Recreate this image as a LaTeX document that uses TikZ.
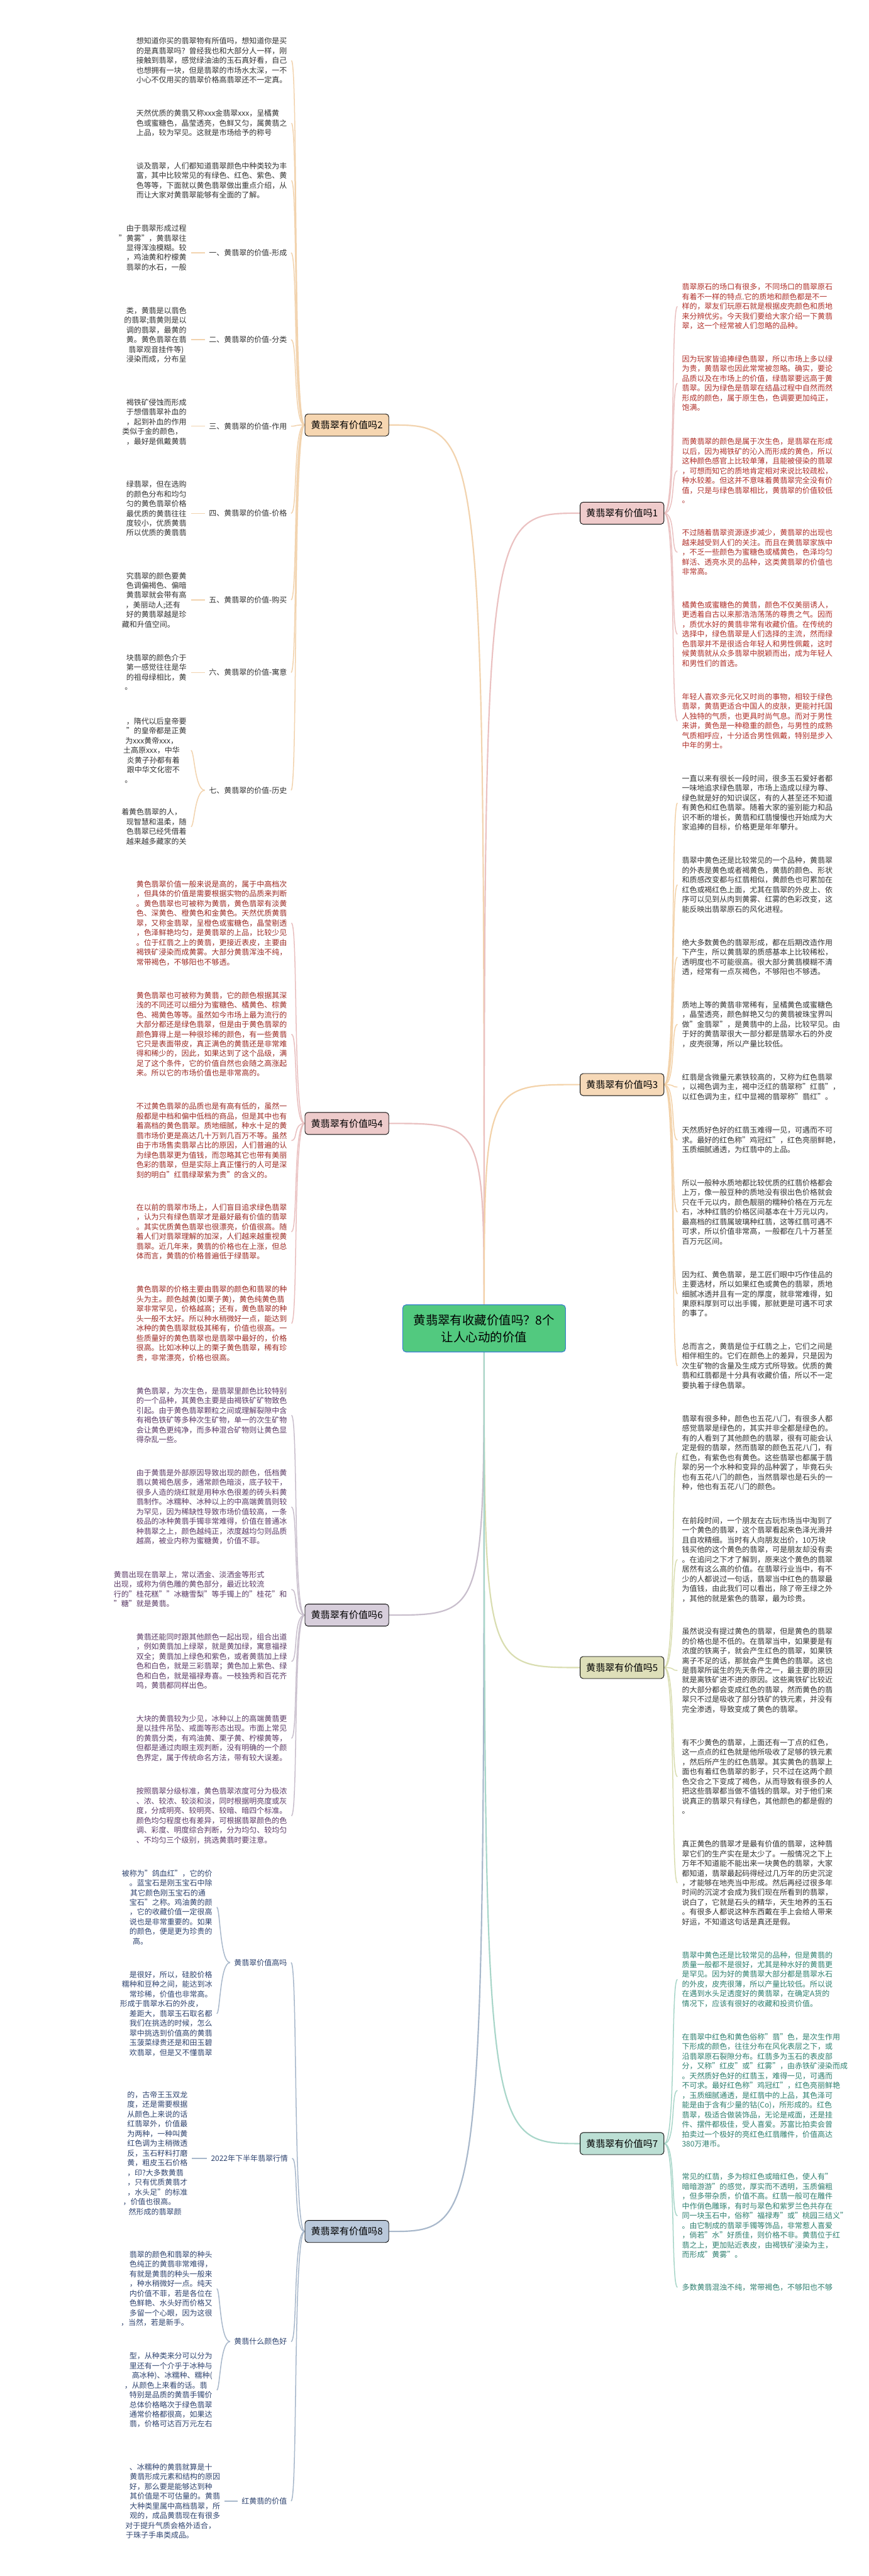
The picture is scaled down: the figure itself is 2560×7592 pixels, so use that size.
\documentclass[tikz,border=0pt]{standalone}
\usepackage{fontspec}
\setmainfont{Noto Sans CJK SC}
\usetikzlibrary{backgrounds}
\definecolor{ctrfill}{HTML}{52C97F}
\definecolor{ctrline}{HTML}{3A80D0}
\definecolor{f1}{HTML}{EFCBCB}\definecolor{c1}{HTML}{EBC1C1}\definecolor{t1}{HTML}{B0302A}
\definecolor{f2}{HTML}{F6D6B1}\definecolor{c2}{HTML}{F2D3AE}\definecolor{t2}{HTML}{333333}
\definecolor{f3}{HTML}{F6D9B8}\definecolor{c3}{HTML}{F3D2A9}\definecolor{t3}{HTML}{333333}
\definecolor{f4}{HTML}{EDCACA}\definecolor{c4}{HTML}{E9BFBF}\definecolor{t4}{HTML}{9E2B25}
\definecolor{f5}{HTML}{DEDFB9}\definecolor{c5}{HTML}{D9DDB0}\definecolor{t5}{HTML}{333333}
\definecolor{f6}{HTML}{D7CEDB}\definecolor{c6}{HTML}{C8BECC}\definecolor{t6}{HTML}{5B3A66}
\definecolor{f7}{HTML}{BCDFD4}\definecolor{c7}{HTML}{A8D6C9}\definecolor{t7}{HTML}{2E8070}
\definecolor{f8}{HTML}{B9C8DA}\definecolor{c8}{HTML}{A8B8CB}\definecolor{t8}{HTML}{2F4470}
\begin{document}
\begin{tikzpicture}[x=1pt,y=-1pt]
        % Define styles
        \tikzset{
            hub/.style={draw=ctrline, fill=ctrfill, line width=2pt, rounded corners=10pt, minimum width=480pt, minimum height=139pt, align=center, font=\fontsize{36}{50}\selectfont},
            branchbox/.style={draw=black, line width=1.6pt, rounded corners=9pt, minimum width=247pt, minimum height=65pt, inner sep=0pt, font=\fontsize{28}{34}\selectfont},
            leaftext/.style={align=left, inner xsep=13pt, inner ysep=2pt, font=\fontsize{22.2}{28.7}\selectfont},
            leafpart/.style={leaftext, align=right},
            subtag/.style={inner xsep=12pt, inner ysep=2pt, font=\fontsize{22.2}{28.7}\selectfont},
            trunk/.style={line width=4pt},
            twig/.style={line width=2.8pt}
        }
        \useasboundingbox (0,0) rectangle (2560,7592);
        % Central topic
        \node[hub] (ctr) at (1427,3915) {黄翡翠有收藏价值吗？8个\\让人心动的价值};
        % Branch 2 (left, top)
        \node[branchbox, fill=f2] (b2) at (1022.5,1252.5) {黄翡翠有价值吗2};
        \node[leaftext, text=t2, anchor=east] (n2a) at (859,178.5) {想知道你买的翡翠物有所值吗，想知道你是买\\的是真翡翠吗？曾经我也和大部分人一样，刚\\接触到翡翠，感觉绿油油的玉石真好看，自己\\也想拥有一块，但是翡翠的市场水太深，一不\\小心不仅用买的翡翠价格高翡翠还不一定真。};
        \node[leaftext, text=t2, anchor=east] (n2b) at (859,363) {天然优质的黄翡又称xxx金翡翠xxx，呈橘黄\\色或蜜糖色，晶莹透亮，色鲜又匀，属黄翡之\\上品，较为罕见。这就是市场给予的称号};
        \node[leaftext, text=t2, anchor=east] (n2c) at (859,532) {谈及翡翠，人们都知道翡翠颜色中种类较为丰\\富，其中比较常见的有绿色、红色、紫色、黄\\色等等，下面就以黄色翡翠做出重点介绍，从\\而让大家对黄翡翠能够有全面的了解。};
        \node[subtag, text=t2, anchor=east] (s21) at (858,745) {一、黄翡翠的价值-形成};
        \node[subtag, text=t2, anchor=east] (s22) at (858,1001) {二、黄翡翠的价值-分类};
        \node[subtag, text=t2, anchor=east] (s23) at (858,1256) {三、黄翡翠的价值-作用};
        \node[subtag, text=t2, anchor=east] (s24) at (858,1513) {四、黄翡翠的价值-价格};
        \node[subtag, text=t2, anchor=east] (s25) at (858,1768) {五、黄翡翠的价值-购买};
        \node[subtag, text=t2, anchor=east] (s26) at (858,1982) {六、黄翡翠的价值-寓意};
        \node[subtag, text=t2, anchor=east] (s27) at (858,2329) {七、黄翡翠的价值-历史};
        \node[leafpart, text=t2, anchor=east] (n21) at (563,730.5) {由于翡翠形成过程\\"黄雾"，黄翡翠往\\显得浑浊模糊。较\\，鸡油黄和柠檬黄\\翡翠的水石，一般};
        \node[leafpart, text=t2, anchor=east] (n22) at (563,987) {类，黄翡是以翡色\\的翡翠;翡黄则是以\\调的翡翠，最黄的\\黄。黄色翡翠在翡\\翡翠观音挂件等)\rule{8pt}{0pt}\\浸染而成，分布呈};
        \node[leafpart, text=t2, anchor=east] (n23) at (563,1243) {褐铁矿侵蚀而形成\\于想借翡翠补血的\\，起到补血的作用\\类似于金的颜色，\rule{12pt}{0pt}\\，最好是佩戴黄翡};
        \node[leafpart, text=t2, anchor=east] (n24) at (563,1499) {绿翡翠，但在选购\\的颜色分布和均匀\\匀的黄色翡翠价格\\最优质的黄翡往往\\度较小，优质黄翡\\所以优质的黄翡翡};
        \node[leafpart, text=t2, anchor=east] (n25) at (563,1768.5) {究翡翠的颜色要黄\\色调偏褐色、偏暗\\黄翡翠就会带有高\\，美丽动人;还有\rule{18pt}{0pt}\\好的黄翡翠越是珍\\藏和升值空间。\rule{35pt}{0pt}};
        \node[leafpart, text=t2, anchor=east] (n26) at (563,1981) {块翡翠的颜色介于\\第一感觉往往是华\\的祖母绿相比，黄\\。\rule{160pt}{0pt}};
        \node[leafpart, text=t2, anchor=east] (n27a) at (563,2211.5) {，隋代以后皇帝要\\"的皇帝都是正黄\\为xxx黄帝xxx，\rule{25pt}{0pt}\\土高原xxx，中华\rule{20pt}{0pt}\\炎黄子孙都有着\rule{20pt}{0pt}\\跟中华文化密不\rule{20pt}{0pt}\\。\rule{160pt}{0pt}};
        \node[leafpart, text=t2, anchor=east] (n27b) at (563,2436.5) {着黄色翡翠的人，\rule{14pt}{0pt}\\现智慧和温柔，随\\色翡翠已经凭借着\\越来越多藏家的关};
        % Branch 4
        \node[branchbox, fill=f4] (b4) at (1022.5,3311) {黄翡翠有价值吗4};
        \node[leaftext, text=t4, anchor=east] (n4a) at (859,2720.5) {黄色翡翠价值一般来说是高的，属于中高档次\\，但具体的价值是需要根据实物的品质来判断\\。黄色翡翠也可被称为黄翡，黄色翡翠有淡黄\\色、深黄色、橙黄色和金黄色。天然优质黄翡\\翠，又称金翡翠，呈橙色或蜜糖色，晶莹剔透\\，色泽鲜艳均匀，是黄翡翠的上品，比较少见\\。位于红翡之上的黄翡，更接近表皮，主要由\\褐铁矿浸染而成黄雾。大部分黄翡浑浊不纯，\\常带褐色，不够阳也不够透。};
        \node[leaftext, text=t4, anchor=east] (n4b) at (859,3048) {黄色翡翠也可被称为黄翡，它的颜色根据其深\\浅的不同还可以细分为蜜糖色、橘黄色、棕黄\\色、褐黄色等等。虽然如今市场上最为流行的\\大部分都还是绿色翡翠，但是由于黄色翡翠的\\颜色算得上是一种很珍稀的颜色，有一些黄翡\\它只是表面带皮，真正满色的黄翡还是非常难\\得和稀少的，因此，如果达到了这个品级，满\\足了这个条件，它的价值自然也会随之高涨起\\来。所以它的市场价值也是非常高的。};
        \node[leaftext, text=t4, anchor=east] (n4c) at (859,3361.5) {不过黄色翡翠的品质也是有高有低的，虽然一\\般都是中档和偏中低档的商品，但是其中也有\\着高档的黄色翡翠。质地细腻，种水十足的黄\\翡市场价更是高达几十万到几百万不等。虽然\\由于市场售卖翡翠占比的原因，人们普遍的认\\为绿色翡翠更为值钱，而忽略其它也带有美丽\\色彩的翡翠，但是实际上真正懂行的人可是深\\刻的明白"红翡绿翠紫为贵"的含义的。};
        \node[leaftext, text=t4, anchor=east] (n4d) at (859,3630.5) {在以前的翡翠市场上，人们盲目追求绿色翡翠\\，认为只有绿色翡翠才是最好最有价值的翡翠\\。其实优质黄色翡翠也很漂亮，价值很高。随\\着人们对翡翠理解的加深，人们越来越重视黄\\翡翠。近几年来，黄翡的价格也在上涨，但总\\体而言，黄翡的价格普遍低于绿翡翠。};
        \node[leaftext, text=t4, anchor=east] (n4e) at (859,3900.5) {黄色翡翠的价格主要由翡翠的颜色和翡翠的种\\头为主。颜色越黄(如栗子黄)，黄色纯黄色翡\\翠非常罕见，价格越高；还有，黄色翡翠的种\\头一般不太好。所以种水稍微好一点，能达到\\冰种的黄色翡翠就极其稀有，价值也很高。一\\些质量好的黄色翡翠也是翡翠中最好的，价格\\很高。比如冰种以上的栗子黄色翡翠，稀有珍\\贵，非常漂亮，价格也很高。};
        % Branch 6
        \node[branchbox, fill=f6] (b6) at (1022.5,4760) {黄翡翠有价值吗6};
        \node[leaftext, text=t6, anchor=east] (n6a) at (859,4171) {黄色翡翠，为次生色，是翡翠里颜色比较特别\\的一个品种，其黄色主要是由褐铁矿矿物致色\\引起。由于黄色翡翠颗粒之间或理解裂隙中含\\有褐色铁矿等多种次生矿物，单一的次生矿物\\会让黄色更纯净，而多种混合矿物则让黄色显\\得杂乱一些。};
        \node[leaftext, text=t6, anchor=east] (n6b) at (859,4441) {由于黄翡是外部原因导致出现的颜色，低档黄\\翡以黄褐色居多，通常颜色暗淡，底子较干，\\很多人造的烧红就是用种水色很差的砖头料黄\\翡制作。冰糯种、冰种以上的中高端黄翡则较\\为罕见，因为稀缺性导致市场价值较高，一条\\极品的冰种黄翡手镯非常难得，价值在普通冰\\种翡翠之上，颜色越纯正，浓度越均匀则品质\\越高，被业内称为蜜糖黄，价值不菲。};
        \node[leaftext, text=t6, anchor=east] (n6c) at (859,4684) {黄翡出现在翡翠上，常以洒金、淡洒金等形式\\出现，或称为俏色雕的黄色部分，最近比较流\\行的"桂花糕""冰糖雪梨"等手镯上的"桂花"和\\"糖"就是黄翡。};
        \node[leaftext, text=t6, anchor=east] (n6d) at (859,4896.5) {黄翡还能同时跟其他颜色一起出现，组合出道\\，例如黄翡加上绿翠，就是黄加绿，寓意福禄\\双全；黄翡加上绿色和紫色，或者黄翡加上绿\\色和白色，就是三彩翡翠；黄色加上紫色、绿\\色和白色，就是福禄寿喜。一枝独秀和百花齐\\鸣，黄翡都同样出色。};
        \node[leaftext, text=t6, anchor=east] (n6e) at (859,5123) {大块的黄翡较为少见，冰种以上的高端黄翡更\\是以挂件吊坠、戒面等形态出现。市面上常见\\的黄翡分类，有鸡油黄、栗子黄、柠檬黄等，\\但都是通过肉眼主观判断，没有明确的一个颜\\色界定，属于传统命名方法，带有较大误差。};
        \node[leaftext, text=t6, anchor=east] (n6f) at (859,5351.5) {按照翡翠分级标准，黄色翡翠浓度可分为极浓\\、浓、较浓、较淡和淡，同时根据明亮度或灰\\度，分成明亮、较明亮、较暗、暗四个标准。\\颜色均匀程度也有差异，可根据翡翠颜色的色\\调、彩度、明度综合判断，分为均匀、较均匀\\、不均匀三个级别，挑选黄翡时要注意。};
        % Branch 8
        \node[branchbox, fill=f8] (b8) at (1022.5,6576.5) {黄翡翠有价值吗8};
        \node[subtag, text=t8, anchor=east] (s8a) at (858,5784) {黄翡翠价值高吗};
        \node[subtag, text=t8, anchor=east] (s8b) at (861,6361) {2022年下半年翡翠行情};
        \node[subtag, text=t8, anchor=east] (s8c) at (858,6901) {黄翡什么颜色好};
        \node[subtag, text=t8, anchor=east] (s8d) at (858,7371) {红黄翡的价值};
        \node[leafpart, text=t8, anchor=east] (n8a1) at (639,5621) {被称为"鸽血红"，它的价\\。蓝宝石是刚玉宝石中除\\其它颜色刚玉宝石的通\rule{20pt}{0pt}\\宝石"之称。鸡油黄的颜\\，它的收藏价值一定很高\\说也是非常重要的。如果\\的颜色，便是更为珍贵的\\高。\rule{190pt}{0pt}};
        \node[leafpart, text=t8, anchor=east] (n8a2) at (639,5934.5) {是很好，所以，硅胶价格\\糯种和豆种之间，能达到冰\\常珍稀，价值也非常高。\\形成于翡翠水石的外皮，\rule{28pt}{0pt}\\差距大，翡翠玉石取名都\\我们在挑选的时候，怎么\\翠中挑选到价值高的黄翡\\玉菠菜绿贵还是和田玉碧\\欢翡翠，但是又不懂翡翠};
        \node[leafpart, text=t8, anchor=east] (n8b) at (566,6346) {的，古帝王玉双龙\\度，还是需要根据\\从颜色上来说的话\\红翡翠外，价值最\\为两种，一种叫黄\\红色调为主稍微透\\反，玉石籽料打磨\\黄，粗皮玉石价格\\，印?大多数黄翡\rule{12pt}{0pt}\\，只有优质黄翡才\\，水头足"的标准\\，价值也很高。\rule{35pt}{0pt}\\然形成的翡翠颜\rule{18pt}{0pt}};
        \node[leafpart, text=t8, anchor=east] (n8c1) at (639,6745) {翡翠的颜色和翡翠的种头\\色纯正的黄翡非常难得，\\有就是黄翡的种头一般来\\，种水稍微好一点。纯天\\内价值不菲，若是各位在\\色鲜艳、水头好而价格又\\多留一个心眼，因为这很\\，当然，若是新手。\rule{70pt}{0pt}};
        \node[leafpart, text=t8, anchor=east] (n8c2) at (639,7044) {型，从种类来分可以分为\\里还有一个介乎于冰种与\\高冰种)、冰糯种、糯种(\\，从颜色上来看的话。翡\rule{15pt}{0pt}\\特别是品质的黄翡手镯价\\总体价格略次于绿色翡翠\\通常价格都很高，如果达\\翡，价格可达百万元左右};
        \node[leafpart, text=t8, anchor=east] (n8d) at (662,7371.5) {、冰糯种的黄翡就算是十\rule{23pt}{0pt}\\黄翡形成元素和结构的原因\\好，那么要是能够达到种\rule{23pt}{0pt}\\其价值是不可估量的。黄翡\\大种类里属中高档翡翠，所\\观的，成品黄翡现在有很多\\对于提升气质会格外适合，\rule{13pt}{0pt}\\于珠子手串类成品。\rule{78pt}{0pt}};
        % Branch 1 (right, top)
        \node[branchbox, fill=f1] (b1) at (1833.5,1512.5) {黄翡翠有价值吗1};
        \node[leaftext, text=t1, anchor=west] (n1a) at (1997,903) {翡翠原石的场口有很多，不同场口的翡翠原石\\有着不一样的特点.它的质地和颜色都是不一\\样的，翠友们玩原石就是根据皮壳颜色和质地\\来分辨优劣。今天我们要给大家介绍一下黄翡\\翠，这一个经常被人们忽略的品种。};
        \node[leaftext, text=t1, anchor=west] (n1b) at (1997,1129.5) {因为玩家皆追捧绿色翡翠，所以市场上多以绿\\为贵，黄翡翠也因此常常被忽略。确实，要论\\品质以及在市场上的价值，绿翡翠要远高于黄\\翡翠。因为绿色是翡翠在结晶过程中自然而然\\形成的颜色，属于原生色，色调要更加纯正，\\饱满。};
        \node[leaftext, text=t1, anchor=west] (n1c) at (1997,1387.5) {而黄翡翠的颜色是属于次生色，是翡翠在形成\\以后，因为褐铁矿的沁入而形成的黄色，所以\\这种颜色感官上比较单薄，且能被侵染的翡翠\\，可想而知它的质地肯定相对来说比较疏松，\\种水较差。但这并不意味着黄翡翠完全没有价\\值，只是与绿色翡翠相比，黄翡翠的价值较低\\。};
        \node[leaftext, text=t1, anchor=west] (n1d) at (1997,1627.5) {不过随着翡翠资源逐步减少，黄翡翠的出现也\\越来越受到人们的关注。而且在黄翡翠家族中\\，不乏一些颜色为蜜糖色或橘黄色，色泽均匀\\鲜活、透亮水灵的品种，这类黄翡翠的价值也\\非常高。};
        \node[leaftext, text=t1, anchor=west] (n1e) at (1997,1869) {橘黄色或蜜糖色的黄翡，颜色不仅美丽诱人，\\更透着自古以来那浩浩荡荡的尊贵之气。因而\\，质优水好的黄翡非常有收藏价值。在传统的\\选择中，绿色翡翠是人们选择的主流，然而绿\\色翡翠并不是很适合年轻人和男性佩戴，这时\\候黄翡就从众多翡翠中脱颖而出，成为年轻人\\和男性们的首选。};
        \node[leaftext, text=t1, anchor=west] (n1f) at (1997,2125) {年轻人喜欢多元化又时尚的事物，相较于绿色\\翡翠，黄翡更适合中国人的皮肤，更能衬托国\\人独特的气质，也更具时尚气息。而对于男性\\来讲，黄色是一种稳重的颜色，与男性的成熟\\气质相呼应，十分适合男性佩戴，特别是步入\\中年的男士。};
        % Branch 3
        \node[branchbox, fill=f3] (b3) at (1833.5,3196.5) {黄翡翠有价值吗3};
        \node[leaftext, text=t3, anchor=west] (n3a) at (1997,2366.5) {一直以来有很长一段时间，很多玉石爱好者都\\一味地追求绿色翡翠，市场上造成以绿为尊、\\绿色就是好的知识误区，有的人甚至还不知道\\有黄色和红色翡翠。随着大家的鉴别能力和品\\识不断的增长，黄翡和红翡慢慢也开始成为大\\家追捧的目标，价格更是年年攀升。};
        \node[leaftext, text=t3, anchor=west] (n3b) at (1997,2607.5) {翡翠中黄色还是比较常见的一个品种，黄翡翠\\的外表是黄色或者褐黄色，黄翡的颜色、形状\\和质感改变都与红翡相似，黄颜色也可累加在\\红色或褐红色上面，尤其在翡翠的外皮上、依\\序可以见到从肉到黄雾、红雾的色彩改变，这\\能反映出翡翠原石的风化进程。};
        \node[leaftext, text=t3, anchor=west] (n3c) at (1997,2821) {绝大多数黄色的翡翠形成，都在后期改造作用\\下产生，所以黄翡翠的质感基本上比较稀松，\\透明度也不可能很高。很大部分黄翡模糊不清\\透，经常有一点灰褐色，不够阳也不够透。};
        \node[leaftext, text=t3, anchor=west] (n3d) at (1997,3019) {质地上等的黄翡非常稀有，呈橘黄色或蜜糖色\\，晶莹透亮，颜色鲜艳又匀的黄翡被珠宝界叫\\做"金翡翠"，是黄翡中的上品，比较罕见。由\\于好的黄翡翠很大一部分都是翡翠水石的外皮\\，皮壳很薄，所以产量比较低。};
        \node[leaftext, text=t3, anchor=west] (n3e) at (1997,3203.5) {红翡是含微量元素铁较高的，又称为红色翡翠\\，以褐色调为主，褐中泛红的翡翠称"红翡"，\\以红色调为主，红中显褐的翡翠称"翡红"。};
        \node[leaftext, text=t3, anchor=west] (n3f) at (1997,3360) {天然质好色好的红翡玉难得一见，可遇而不可\\求。最好的红色称"鸡冠红"，红色亮丽鲜艳，\\玉质细腻通透，为红翡中的上品。};
        \node[leaftext, text=t3, anchor=west] (n3g) at (1997,3572) {所以一般种水质地都比较优质的红翡价格都会\\上万，像一般豆种的质地没有很出色价格就会\\只在千元以内，颜色靓丽的糯种价格在万元左\\右，冰种红翡的价格区间基本在十万元以内，\\最高档的红翡属玻璃种红翡，这等红翡可遇不\\可求，所以价值非常高，一般都在几十万甚至\\百万元区间。};
        \node[leaftext, text=t3, anchor=west] (n3h) at (1997,3813.5) {因为红、黄色翡翠，是工匠们眼中巧作佳品的\\主要选材，所以如果红色或黄色的翡翠，质地\\细腻冰透并且有一定的厚度，就非常难得，如\\果原料厚到可以出手镯，那就更是可遇不可求\\的事了。};
        \node[leaftext, text=t3, anchor=west] (n3i) at (1997,4025.5) {总而言之，黄翡是位于红翡之上，它们之间是\\相伴相生的。它们在颜色上的差异，只是因为\\次生矿物的含量及生成方式所导致。优质的黄\\翡和红翡都是十分具有收藏价值，所以不一定\\要执着于绿色翡翠。};
        % Branch 5
        \node[branchbox, fill=f5] (b5) at (1833.5,4914.5) {黄翡翠有价值吗5};
        \node[leaftext, text=t5, anchor=west] (n5a) at (1997,4281.5) {翡翠有很多种，颜色也五花八门，有很多人都\\感觉翡翠是绿色的，其实并非全都是绿色的。\\有的人看到了其他颜色的翡翠，很有可能会认\\定是假的翡翠，然而翡翠的颜色五花八门，有\\红色，有紫色也有黄色。这些翡翠也都属于翡\\翠的另一个水种和变异的品种罢了，毕竟石头\\也有五花八门的颜色，当然翡翠也是石头的一\\种，他也有五花八门的颜色。};
        \node[leaftext, text=t5, anchor=west] (n5b) at (1997,4596) {在前段时间，一个朋友在古玩市场当中淘到了\\一个黄色的翡翠，这个翡翠看起来色泽光滑并\\且自攻精细。当时有人向朋友出价，10万块\\钱买他的这个黄色的翡翠，可是朋友却没有卖\\。在追问之下才了解到，原来这个黄色的翡翠\\居然有这么高的价值。在翡翠行业当中，有不\\少的人都说过一句话，翡翠当中红色的翡翠最\\为值钱，由此我们可以看出，除了帝王绿之外\\，其他的就是紫色的翡翠，最为珍贵。};
        \node[leaftext, text=t5, anchor=west] (n5c) at (1997,4923) {虽然说没有提过黄色的翡翠，但是黄色的翡翠\\的价格也是不低的。在翡翠当中，如果要是有\\浓度的铁离子，就会产生红色的翡翠，如果铁\\离子不足的话，那就会产生黄色的翡翠。这也\\是翡翠所诞生的先天条件之一，最主要的原因\\就是离铁矿进不进的原因。这些离铁矿比较近\\的大部分都会变成红色的翡翠，然而黄色的翡\\翠只不过是吸收了部分铁矿的铁元素，并没有\\完全渗透，导致变成了黄色的翡翠。};
        \node[leaftext, text=t5, anchor=west] (n5d) at (1997,5236) {有不少黄色的翡翠，上面还有一丁点的红色，\\这一点点的红色就是他所吸收了足够的铁元素\\，然后所产生的红色翡翠。其实黄色的翡翠上\\面也有着红色翡翠的影子，只不过在这两个颜\\色交合之下变成了褐色，从而导致有很多的人\\把这些翡翠都当做不值钱的翡翠。对于他们来\\说真正的翡翠只有绿色，其他颜色的都是假的\\。};
        \node[leaftext, text=t5, anchor=west] (n5e) at (1997,5549.5) {真正黄色的翡翠才是最有价值的翡翠，这种翡\\翠它们的生产实在是太少了。一般情况之下上\\万年不知道能不能出来一块黄色的翡翠，大家\\都知道，翡翠最起码得经过几万年的历史沉淀\\，才能够在地壳当中形成。然后再经过很多年\\时间的沉淀才会成为我们现在所看到的翡翠，\\说白了，它就是石头的精华，天生地养的玉石\\。有很多人都说这种东西戴在手上会给人带来\\好运，不知道这句话是真还是假。};
        % Branch 7
        \node[branchbox, fill=f7] (b7) at (1833.5,6317.5) {黄翡翠有价值吗7};
        \node[leaftext, text=t7, anchor=west] (n7a) at (1997,5833.5) {翡翠中黄色还是比较常见的品种，但是黄翡的\\质量一般都不是很好，尤其是种水好的黄翡更\\是罕见。因为好的黄翡翠大部分都是翡翠水石\\的外皮，皮壳很薄，所以产量比较低。所以说\\在遇到水头足透度好的黄翡翠，在确定A货的\\情况下，应该有很好的收藏和投资价值。};
        \node[leaftext, text=t7, anchor=west] (n7b) at (1997,6161) {在翡翠中红色和黄色俗称"翡"色，是次生作用\\下形成的颜色，往往分布在风化表层之下，或\\沿翡翠原石裂隙分布。红翡多为玉石的表皮部\\分，又称"红皮"或"红雾"，由赤铁矿浸染而成\\。天然质好色好的红翡玉，难得一见，可遇而\\不可求。最好红色称"鸡冠红"，红色亮丽鲜艳\\，玉质细腻通透，是红翡中的上品，其色泽可\\能是由于含有少量的钴(Co)，所形成的。红色\\翡翠，极适合做装饰品，无论是戒面，还是挂\\件、摆件都极佳，受人喜爱。苏富比拍卖会曾\\拍卖过一个极好的亮红色红翡雕件，价值高达\\380万港币。};
        \node[leaftext, text=t7, anchor=west] (n7c) at (1997,6530.5) {常见的红翡，多为棕红色或暗红色，使人有"\\暗暗游游"的感觉，厚实而不透明，玉质偏粗\\，但多带杂质，价值不高。红翡一般可在雕件\\中作俏色雕琢，有时与翠色和紫罗兰色共存在\\同一块玉石中，俗称"福禄寿"或"桃园三结义"\\。由它制成的翡翠手镯等饰品，非常惹人喜爱\\，倘若"水"好质佳，则价格不非。黄翡位于红\\翡之上，更加贴近表皮，由褐铁矿浸染为主，\\而形成"黄雾"。};
        \node[leaftext, text=t7, anchor=west] (n7d) at (1997,6741) {多数黄翡混浊不纯，常带褐色，不够阳也不够};
        % Connectors
        \begin{scope}[on background layer]
            \fill[white] (0,0) rectangle (2560,7592);
            \draw[trunk, c2] (ctr.center) .. controls (ctr.center |- b2.east) .. (b2.east);
            \draw[trunk, c4] (ctr.center) .. controls (ctr.center |- b4.east) .. (b4.east);
            \draw[trunk, c6] (ctr.center) .. controls (ctr.center |- b6.east) .. (b6.east);
            \draw[trunk, c8] (ctr.center) .. controls (ctr.center |- b8.east) .. (b8.east);
            \draw[trunk, c1] (ctr.center) .. controls (ctr.center |- b1.west) .. (b1.west);
            \draw[trunk, c3] (ctr.center) .. controls (ctr.center |- b3.west) .. (b3.west);
            \draw[trunk, c5] (ctr.center) .. controls (ctr.center |- b5.west) .. (b5.west);
            \draw[trunk, c7] (ctr.center) .. controls (ctr.center |- b7.west) .. (b7.west);
            \foreach \c in {n2a,n2b,n2c,s21,s22,s23,s24,s25,s26,s27}
                \draw[twig, c2] (b2.west) .. controls +(-35,0) and +(20,0) .. (\c.east);
            \foreach \s/\n in {s21/n21,s22/n22,s23/n23,s24/n24,s25/n25,s26/n26}
                \draw[twig, c2] (\s.west) -- (\s.west -| \n.east);
            \foreach \n in {n27a,n27b}
                \draw[twig, c2] (s27.west) .. controls +(-30,0) and +(10,0) .. (\n.east);
            \foreach \c in {n4a,n4b,n4c,n4d,n4e}
                \draw[twig, c4] (b4.west) .. controls +(-35,0) and +(20,0) .. (\c.east);
            \foreach \c in {n6a,n6b,n6c,n6d,n6e,n6f}
                \draw[twig, c6] (b6.west) .. controls +(-35,0) and +(20,0) .. (\c.east);
            \foreach \c in {s8a,s8b,s8c,s8d}
                \draw[twig, c8] (b8.west) .. controls +(-35,0) and +(20,0) .. (\c.east);
            \foreach \n in {n8a1,n8a2}
                \draw[twig, c8] (s8a.west) .. controls +(-30,0) and +(10,0) .. (\n.east);
            \foreach \n in {n8c1,n8c2}
                \draw[twig, c8] (s8c.west) .. controls +(-30,0) and +(10,0) .. (\n.east);
            \draw[twig, c8] (s8b.west) -- (s8b.west -| n8b.east);
            \draw[twig, c8] (s8d.west) -- (s8d.west -| n8d.east);
            \foreach \c in {n1a,n1b,n1c,n1d,n1e,n1f}
                \draw[twig, c1] (b1.east) .. controls +(35,0) and +(-20,0) .. (\c.west);
            \foreach \c in {n3a,n3b,n3c,n3d,n3e,n3f,n3g,n3h,n3i}
                \draw[twig, c3] (b3.east) .. controls +(35,0) and +(-20,0) .. (\c.west);
            \foreach \c in {n5a,n5b,n5c,n5d,n5e}
                \draw[twig, c5] (b5.east) .. controls +(35,0) and +(-20,0) .. (\c.west);
            \foreach \c in {n7a,n7b,n7c,n7d}
                \draw[twig, c7] (b7.east) .. controls +(35,0) and +(-20,0) .. (\c.west);
        \end{scope}
\end{tikzpicture}
\end{document}
